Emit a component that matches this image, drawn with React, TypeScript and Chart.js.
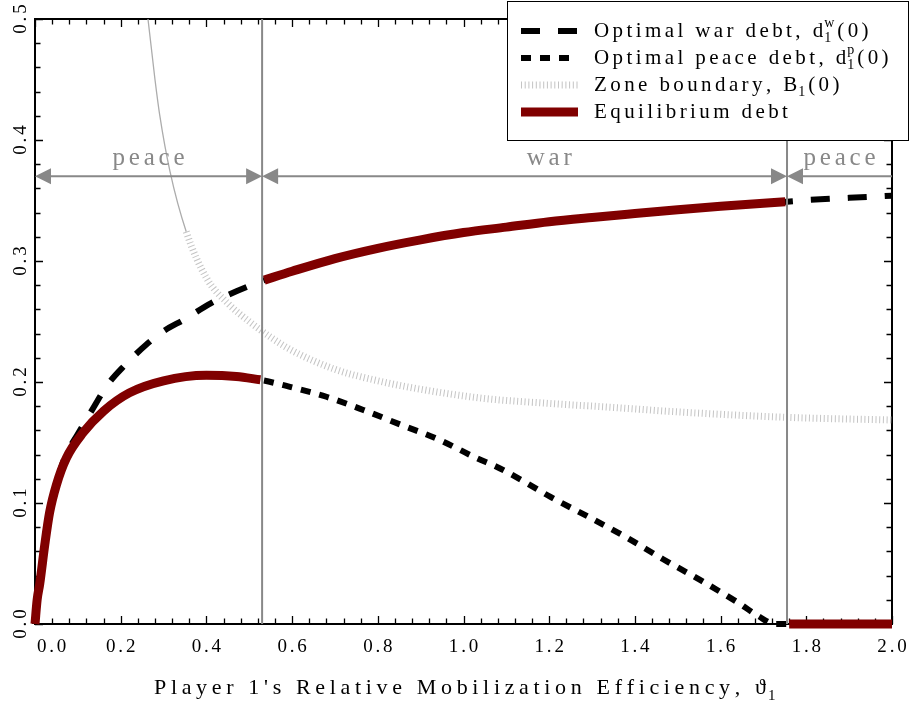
import React, { useEffect, useRef } from 'react';
import { Chart, registerables } from 'chart.js';

Chart.register(...registerables);

// ---------- data ----------
const warTheta = [0, 0.011, 0.023, 0.034, 0.05, 0.07, 0.1, 0.13, 0.17, 0.21, 0.26, 0.3, 0.35, 0.41, 0.47, 0.53, 0.6, 0.7, 0.8, 0.9, 1.0, 1.1, 1.2, 1.3, 1.4, 1.5, 1.6, 1.7, 1.755, 1.8, 1.9, 2.0];
const warDebt = [0, 0.031, 0.066, 0.093, 0.116, 0.138, 0.157, 0.175, 0.198, 0.214, 0.231, 0.242, 0.252, 0.265, 0.275, 0.2835, 0.2915, 0.302, 0.3105, 0.3175, 0.3235, 0.328, 0.3325, 0.336, 0.3392, 0.3423, 0.3452, 0.3478, 0.349, 0.3503, 0.3522, 0.354];

const peaceTheta = [0, 0.005, 0.011, 0.023, 0.034, 0.05, 0.073, 0.112, 0.16, 0.22, 0.3, 0.4, 0.47, 0.53, 0.595, 0.68, 0.766, 0.855, 0.945, 1.031, 1.077, 1.14, 1.202, 1.291, 1.377, 1.466, 1.552, 1.641, 1.688, 1.727, 2.0];
const peaceDebt = [0, 0.02, 0.033, 0.066, 0.092, 0.115, 0.137, 0.158, 0.176, 0.191, 0.201, 0.2055, 0.2045, 0.2015, 0.196, 0.1878, 0.1769, 0.1645, 0.152, 0.137, 0.13, 0.118, 0.1052, 0.0887, 0.0722, 0.0535, 0.0364, 0.0176, 0.0066, 0, 0];

const boundTheta = [0.255, 0.264, 0.28, 0.291, 0.315, 0.353, 0.4, 0.45, 0.5, 0.55, 0.6, 0.7, 0.8, 0.9, 1.046, 1.194, 1.35, 1.49, 1.754, 2.0];
const boundVal = [0.53, 0.499, 0.45, 0.4207, 0.374, 0.3242, 0.286, 0.265, 0.25, 0.237, 0.226, 0.2105, 0.201, 0.194, 0.1865, 0.1824, 0.179, 0.1755, 0.1708, 0.1686];

const eqPeaceTheta = [0, 0.005, 0.011, 0.023, 0.034, 0.05, 0.073, 0.112, 0.16, 0.22, 0.3, 0.4, 0.47, 0.526];
const eqPeaceDebt = [0, 0.02, 0.033, 0.066, 0.092, 0.115, 0.137, 0.158, 0.176, 0.191, 0.201, 0.2055, 0.2045, 0.2018];
const eqWarTheta = [0.535, 0.6, 0.7, 0.8, 0.9, 1.0, 1.1, 1.2, 1.3, 1.4, 1.5, 1.6, 1.7, 1.751];
const eqWarDebt = [0.2842, 0.2915, 0.302, 0.3105, 0.3175, 0.3235, 0.328, 0.3325, 0.336, 0.3392, 0.3423, 0.3452, 0.3478, 0.349];
const eqZeroTheta = [1.76, 2.0];
const eqZeroDebt = [0, 0];

const zoneStart = [0, 0.53, 1.755];
const zoneEnd = [0.53, 1.755, 2.0];
const zoneName = ['peace', 'war', 'peace'];
const zoneLabelAt = [0.265, 1.2, 1.8775];
const zoneHeadStart = [true, true, true];
const zoneHeadEnd = [true, true, false];
const zoneCuts = [0.53, 1.755];
const arrowLevel = 0.37;

const xTickValues = [0, 0.2, 0.4, 0.6, 0.8, 1.0, 1.2, 1.4, 1.6, 1.8, 2.0];
const xTickLabels = ['0.0', '0.2', '0.4', '0.6', '0.8', '1.0', '1.2', '1.4', '1.6', '1.8', '2.0'];
const yTickValues = [0, 0.1, 0.2, 0.3, 0.4, 0.5];
const yTickLabels = ['0.0', '0.1', '0.2', '0.3', '0.4', '0.5'];
const xMinorStep = 0.04;
const yMinorStep = 0.02;

const legendMain = ['Optimal war debt, d', 'Optimal peace debt, d', 'Zone boundary, B', 'Equilibrium debt'];
const legendSup = ['w', 'p', '', ''];
const legendSub = ['1', '1', '1', ''];
const legendTail = ['(0)', '(0)', '(0)', ''];

const xTitleMain = "Player 1's Relative Mobilization Efficiency, \u03D1";
const xTitleSub = '1';

// ---------- styles ----------
const SERIF = '"Liberation Serif", "DejaVu Serif", serif';
const RED = '#800000';
const GREY = '#888888';
const BOUND_GREY = '#c4c4c4';

const toPts = (xs: number[], ys: number[]) => xs.map((x, i) => ({ x, y: ys[i] }));

function drawSpaced(ctx: CanvasRenderingContext2D, text: string, x: number, y: number, sp: number): number {
  let cx = x;
  const chars = Array.from(text);
  chars.forEach((ch, i) => {
    ctx.fillText(ch, cx, y);
    cx += ctx.measureText(ch).width + (i < chars.length - 1 ? sp : 0);
  });
  return cx;
}
function spacedWidth(ctx: CanvasRenderingContext2D, text: string, sp: number): number {
  const chars = Array.from(text);
  let w = 0;
  chars.forEach((ch) => (w += ctx.measureText(ch).width));
  return w + sp * Math.max(0, chars.length - 1);
}

const frame = {
  id: 'frame',
  beforeDatasetsDraw(chart: any) {
    const ctx: CanvasRenderingContext2D = chart.ctx;
    const xs = chart.scales.x;
    const ys = chart.scales.y;
    const a = chart.chartArea;
    ctx.save();
    ctx.strokeStyle = '#000';
    ctx.lineWidth = 2;
    ctx.strokeRect(a.left, a.top, a.right - a.left, a.bottom - a.top);

    ctx.lineWidth = 1.3;
    const nX = Math.round((xs.max - xs.min) / xMinorStep);
    for (let i = 0; i <= nX; i++) {
      const v = xs.min + i * xMinorStep;
      const px = Math.round(xs.getPixelForValue(v)) + 0.5;
      const len = i % 5 === 0 ? 8 : 5.5;
      ctx.beginPath();
      ctx.moveTo(px, a.bottom);
      ctx.lineTo(px, a.bottom - len);
      ctx.moveTo(px, a.top);
      ctx.lineTo(px, a.top + len);
      ctx.stroke();
    }
    const nY = Math.round((ys.max - ys.min) / yMinorStep);
    for (let i = 0; i <= nY; i++) {
      const v = ys.min + i * yMinorStep;
      const py = Math.round(ys.getPixelForValue(v)) + 0.5;
      const len = i % 5 === 0 ? 8 : 5.5;
      ctx.beginPath();
      ctx.moveTo(a.left, py);
      ctx.lineTo(a.left + len, py);
      ctx.moveTo(a.right, py);
      ctx.lineTo(a.right - len, py);
      ctx.stroke();
    }

    ctx.fillStyle = '#000';
    ctx.textAlign = 'left';
    ctx.textBaseline = 'alphabetic';
    ctx.font = `19px ${SERIF}`;
    const tsp = 2.8;
    xTickValues.forEach((v, i) => {
      const px = xs.getPixelForValue(v);
      const w = spacedWidth(ctx, xTickLabels[i], tsp);
      const left = i === 0 ? px + 2 : px - w / 2;
      drawSpaced(ctx, xTickLabels[i], left, a.bottom + 28, tsp);
    });
    yTickValues.forEach((v, i) => {
      const py = ys.getPixelForValue(v);
      ctx.save();
      ctx.translate(25.5, py);
      ctx.rotate(-Math.PI / 2);
      const w = spacedWidth(ctx, yTickLabels[i], tsp);
      drawSpaced(ctx, yTickLabels[i], -w / 2, 0, tsp);
      ctx.restore();
    });

    ctx.font = `22px ${SERIF}`;
    const titleLeft = 154, titleRight = 766;
    const chars = Array.from(xTitleMain);
    let raw = 0;
    chars.forEach((c) => (raw += ctx.measureText(c).width));
    const titleSp = (titleRight - titleLeft - raw) / (chars.length - 1);
    const tEnd = drawSpaced(ctx, xTitleMain, titleLeft, 694, titleSp);
    ctx.font = `15px ${SERIF}`;
    drawSpaced(ctx, xTitleSub, tEnd + 2, 700, 0);
    ctx.restore();
  },
};

const decor = {
  id: 'decor',
  afterDatasetsDraw(chart: any) {
    const ctx: CanvasRenderingContext2D = chart.ctx;
    const xs = chart.scales.x;
    const ys = chart.scales.y;
    const a = chart.chartArea;
    ctx.save();
    ctx.textAlign = 'left';
    ctx.textBaseline = 'alphabetic';

    ctx.strokeStyle = GREY;
    ctx.lineWidth = 2;
    zoneCuts.forEach((t) => {
      const px = xs.getPixelForValue(t);
      ctx.beginPath();
      ctx.moveTo(px, a.bottom);
      ctx.lineTo(px, a.top);
      ctx.stroke();
    });

    const ay = ys.getPixelForValue(arrowLevel);
    const HL = 16, HW = 8;
    zoneStart.forEach((s, i) => {
      const x0 = xs.getPixelForValue(s);
      const x1 = xs.getPixelForValue(zoneEnd[i]);
      ctx.strokeStyle = GREY;
      ctx.fillStyle = GREY;
      ctx.lineWidth = 2;
      ctx.beginPath();
      ctx.moveTo(x0 + (zoneHeadStart[i] ? HL - 2 : 0), ay);
      ctx.lineTo(x1 - (zoneHeadEnd[i] ? HL - 2 : 0), ay);
      ctx.stroke();
      if (zoneHeadStart[i]) {
        ctx.beginPath();
        ctx.moveTo(x0, ay);
        ctx.lineTo(x0 + HL, ay - HW);
        ctx.lineTo(x0 + HL, ay + HW);
        ctx.closePath();
        ctx.fill();
      }
      if (zoneHeadEnd[i]) {
        ctx.beginPath();
        ctx.moveTo(x1, ay);
        ctx.lineTo(x1 - HL, ay - HW);
        ctx.lineTo(x1 - HL, ay + HW);
        ctx.closePath();
        ctx.fill();
      }
      ctx.font = `25px ${SERIF}`;
      const sp = 3.8;
      const w = spacedWidth(ctx, zoneName[i], sp);
      const cx = xs.getPixelForValue(zoneLabelAt[i]);
      drawSpaced(ctx, zoneName[i], cx - w / 2, ay - 11, sp);
    });

    // legend
    const L = { x: 507.5, y: 1.5, w: 401, h: 139 };
    ctx.fillStyle = '#fff';
    ctx.fillRect(L.x, L.y, L.w, L.h);
    ctx.strokeStyle = '#000';
    ctx.lineWidth = 1;
    ctx.strokeRect(L.x, L.y, L.w, L.h);
    const baselines = [37, 64, 91, 118];
    const sx0 = 521, sx1 = 578, tx = 594;
    const styles = [
      { color: '#000', width: 6, dash: [19, 18] },
      { color: '#000', width: 6, dash: [10, 9] },
      { color: BOUND_GREY, width: 7, dash: [1, 2.7] },
      { color: RED, width: 9, dash: [] as number[] },
    ];
    styles.forEach((s, i) => {
      const ly = baselines[i] - 6;
      ctx.strokeStyle = s.color;
      ctx.lineWidth = s.width;
      ctx.setLineDash(s.dash);
      ctx.lineCap = 'butt';
      ctx.beginPath();
      ctx.moveTo(sx0, ly);
      ctx.lineTo(sx1, ly);
      ctx.stroke();
      ctx.setLineDash([]);
      ctx.fillStyle = '#000';
      ctx.font = `21px ${SERIF}`;
      let cx = drawSpaced(ctx, legendMain[i], tx, baselines[i], 3.4);
      if (legendSup[i] || legendSub[i]) {
        cx += 1;
        ctx.font = `14px ${SERIF}`;
        let w = 0;
        if (legendSup[i]) {
          drawSpaced(ctx, legendSup[i], cx, baselines[i] - 10, 0);
          w = Math.max(w, ctx.measureText(legendSup[i]).width);
        }
        if (legendSub[i]) {
          drawSpaced(ctx, legendSub[i], cx, baselines[i] + 5, 0);
          w = Math.max(w, ctx.measureText(legendSub[i]).width);
        }
        cx += w + 3;
      }
      if (legendTail[i]) {
        ctx.font = `21px ${SERIF}`;
        drawSpaced(ctx, legendTail[i], cx, baselines[i], 3.4);
      }
    });

    ctx.restore();
  },
};

export default function App() {
  const ref = useRef<HTMLCanvasElement>(null);
  useEffect(() => {
    const canvas = ref.current!;
    const common = {
      pointRadius: 0,
      pointHoverRadius: 0,
      fill: false,
      cubicInterpolationMode: 'monotone' as const,
      borderCapStyle: 'butt' as const,
    };
    const steep = (c: any) => Math.abs(c.p1.y - c.p0.y) > 2.5 * Math.abs(c.p1.x - c.p0.x);
    const chart = new Chart(canvas, {
      type: 'line',
      data: {
        datasets: [
          { ...common, label: 'Equilibrium debt', data: toPts(eqPeaceTheta, eqPeaceDebt), borderColor: RED, borderWidth: 9, order: 0, clip: 10 },
          { ...common, label: 'Equilibrium debt (war)', data: toPts(eqWarTheta, eqWarDebt), borderColor: RED, borderWidth: 9, order: 0, clip: 10 },
          { ...common, label: 'Equilibrium debt (zero)', data: toPts(eqZeroTheta, eqZeroDebt), borderColor: RED, borderWidth: 9, order: 0, clip: 10 },
          { ...common, label: 'Optimal peace debt', data: toPts(peaceTheta, peaceDebt), borderColor: '#000', borderWidth: 6, borderDash: [10, 9], order: 1, clip: 6 },
          { ...common, label: 'Optimal war debt', data: toPts(warTheta, warDebt), borderColor: '#000', borderWidth: 6, borderDash: [19, 18], order: 2, clip: 6 },
          {
            ...common,
            label: 'Zone boundary',
            data: toPts(boundTheta, boundVal),
            borderColor: BOUND_GREY,
            borderWidth: 7,
            borderDash: [1, 2.7],
            order: 3,
            clip: 0,
            segment: {
              borderWidth: (c: any) => (steep(c) ? 1.3 : 7),
              borderDash: (c: any) => (steep(c) ? [] : [1, 2.7]),
              borderColor: (c: any) => (steep(c) ? '#acacac' : BOUND_GREY),
            },
          },
        ] as any,
      },
      options: {
        responsive: false,
        animation: false,
        devicePixelRatio: 1,
        events: [],
        layout: { padding: { left: 35, right: 18, top: 19, bottom: 79 } },
        scales: {
          x: { type: 'linear', min: 0, max: 2, display: false },
          y: { type: 'linear', min: 0, max: 0.5, display: false },
        },
        plugins: { legend: { display: false }, tooltip: { enabled: false } },
      },
      plugins: [frame, decor],
    });
    return () => chart.destroy();
  }, []);
  return (
    <div style={{ position: 'fixed', left: 0, top: 0, width: 910, height: 703, background: '#fff' }}>
      <canvas ref={ref} width={910} height={703} style={{ display: 'block', width: 910, height: 703 }} />
    </div>
  );
}
